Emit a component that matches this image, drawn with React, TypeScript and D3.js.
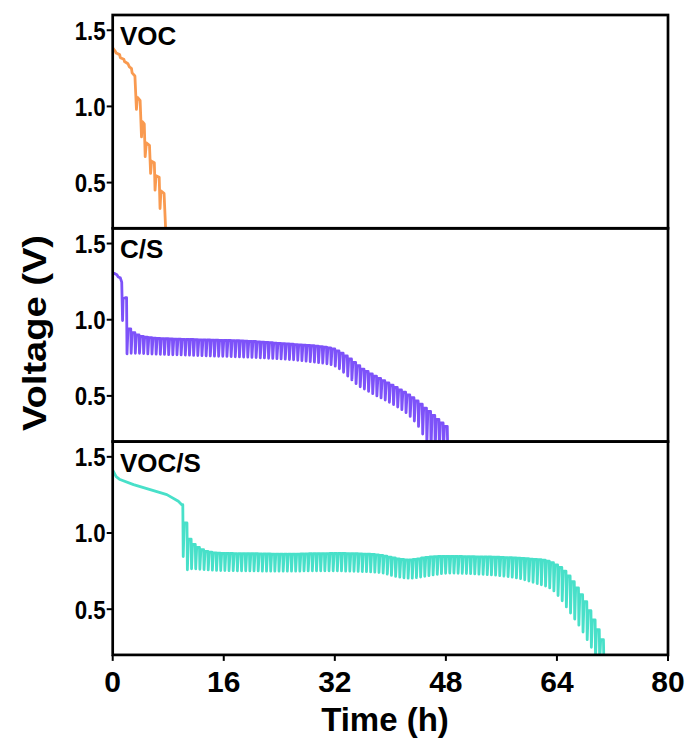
import React from "react";
import * as d3 from "d3";

// ---------------- data ----------------
const X_TICKS = [0, 16, 32, 48, 64, 80];
const Y_TICKS = [0.5, 1.0, 1.5];
const PANEL_LABELS = ["VOC", "C/S", "VOC/S"];
const COLORS = ["#F99A50", "#7D52F9", "#48E0C9"];

// VOC: explicit trace
const VOC_T = [0, 0.4, 0.5, 1.0, 1.1, 1.6, 1.7, 2.2, 2.4, 2.7, 2.8, 3.2, 3.42, 3.55, 3.95, 4.15, 4.28, 4.55, 4.68, 4.85, 5.3, 5.46, 5.6, 6.0, 6.1, 6.25, 6.7, 6.82, 6.95, 7.4, 7.64];
const VOC_V = [1.385, 1.36, 1.35, 1.34, 1.32, 1.31, 1.295, 1.28, 1.26, 1.25, 1.22, 1.2, 0.98, 1.06, 1.04, 0.8, 0.9, 0.885, 0.67, 0.76, 0.745, 0.56, 0.64, 0.63, 0.45, 0.545, 0.535, 0.33, 0.445, 0.43, 0.18];

// C/S: pre-pulse trace then pulses
const CS_PRE_T = [0, 0.2, 0.6, 0.8, 1.1, 1.3, 1.42, 1.5, 1.9];
const CS_PRE_V = [1.307, 1.305, 1.295, 1.28, 1.275, 1.247, 0.995, 1.138, 1.145];
const CS_START = 2.0;
const CS_PERIOD = 0.6;
const CS_HIGH = [1.145, 0.94, 0.915, 0.9, 0.89, 0.885, 0.882, 0.879, 0.877, 0.876, 0.875, 0.874, 0.873, 0.872, 0.871, 0.87, 0.87, 0.869, 0.868, 0.868, 0.867, 0.866, 0.866, 0.865, 0.864, 0.864, 0.863, 0.862, 0.861, 0.86, 0.858, 0.857, 0.855, 0.853, 0.851, 0.849, 0.847, 0.845, 0.843, 0.841, 0.839, 0.837, 0.835, 0.833, 0.831, 0.829, 0.826, 0.823, 0.82, 0.815, 0.808, 0.796, 0.78, 0.762, 0.742, 0.72, 0.698, 0.676, 0.66, 0.645, 0.63, 0.615, 0.6, 0.585, 0.57, 0.555, 0.54, 0.524, 0.506, 0.488, 0.467, 0.445, 0.42, 0.398, 0.372, 0.345, 0.322, 0.3];
const CS_LOW = [0.776, 0.78, 0.78, 0.78, 0.778, 0.776, 0.775, 0.774, 0.773, 0.772, 0.771, 0.77, 0.77, 0.769, 0.768, 0.767, 0.766, 0.765, 0.764, 0.763, 0.762, 0.761, 0.76, 0.76, 0.759, 0.758, 0.757, 0.756, 0.755, 0.754, 0.753, 0.752, 0.75, 0.749, 0.747, 0.746, 0.744, 0.743, 0.741, 0.739, 0.737, 0.734, 0.731, 0.728, 0.725, 0.722, 0.718, 0.715, 0.711, 0.705, 0.695, 0.678, 0.655, 0.63, 0.605, 0.58, 0.56, 0.545, 0.53, 0.515, 0.5, 0.487, 0.473, 0.458, 0.443, 0.427, 0.41, 0.39, 0.365, 0.335, 0.3, 0.25, 0.19, 0.15, 0.15, 0.15, 0.15, 0.15];

// VOC/S
const VOCS_PRE_T = [0, 0.5, 1.05, 3.0, 5.4, 7.8, 9.46, 9.95];
const VOCS_PRE_V = [1.412, 1.37, 1.351, 1.318, 1.285, 1.252, 1.208, 1.186];
const VOCS_START = 10.1;
const VOCS_PERIOD = 0.6;
const VOCS_HIGH = [1.186, 1.066, 0.96, 0.925, 0.905, 0.89, 0.88, 0.874, 0.87, 0.868, 0.867, 0.866, 0.866, 0.865, 0.865, 0.865, 0.864, 0.864, 0.864, 0.863, 0.863, 0.863, 0.862, 0.862, 0.862, 0.862, 0.862, 0.862, 0.862, 0.863, 0.863, 0.864, 0.864, 0.865, 0.865, 0.865, 0.866, 0.866, 0.866, 0.866, 0.865, 0.865, 0.864, 0.863, 0.862, 0.861, 0.859, 0.857, 0.853, 0.848, 0.842, 0.836, 0.83, 0.826, 0.824, 0.824, 0.827, 0.83, 0.836, 0.84, 0.843, 0.845, 0.846, 0.846, 0.846, 0.846, 0.846, 0.846, 0.845, 0.845, 0.845, 0.844, 0.844, 0.843, 0.843, 0.842, 0.841, 0.84, 0.839, 0.838, 0.837, 0.835, 0.833, 0.831, 0.829, 0.827, 0.825, 0.822, 0.815, 0.805, 0.79, 0.775, 0.75, 0.718, 0.68, 0.64, 0.595, 0.55, 0.49, 0.43, 0.365, 0.3];
const VOCS_LOW = [0.846, 0.759, 0.765, 0.765, 0.762, 0.76, 0.758, 0.756, 0.755, 0.754, 0.754, 0.753, 0.753, 0.752, 0.752, 0.752, 0.751, 0.751, 0.751, 0.75, 0.75, 0.75, 0.75, 0.75, 0.75, 0.75, 0.75, 0.75, 0.75, 0.751, 0.751, 0.752, 0.752, 0.752, 0.752, 0.752, 0.752, 0.752, 0.751, 0.75, 0.75, 0.749, 0.748, 0.747, 0.746, 0.745, 0.743, 0.741, 0.737, 0.73, 0.722, 0.715, 0.71, 0.706, 0.704, 0.704, 0.707, 0.711, 0.716, 0.72, 0.725, 0.729, 0.733, 0.736, 0.737, 0.737, 0.736, 0.735, 0.734, 0.733, 0.732, 0.73, 0.729, 0.727, 0.725, 0.723, 0.72, 0.717, 0.714, 0.71, 0.705, 0.7, 0.693, 0.685, 0.677, 0.668, 0.66, 0.652, 0.64, 0.62, 0.59, 0.555, 0.515, 0.475, 0.435, 0.395, 0.35, 0.3, 0.25, 0.18, 0.15, 0.15];

// ---------------- layout ----------------
const W = 691;
const H = 742;
const LEFT = 112.7;
const RIGHT = 668;
const TOP = 15;
const PANEL_H = 213.3;
const FONT = "'Liberation Sans', Arial, Helvetica, sans-serif";

type Pt = [number, number];

function buildPulsed(preT: number[], preV: number[], start: number, period: number, hi: number[], lo: number[]): Pt[] {
  const pts: Pt[] = preT.map((t, i) => [t, preV[i]] as Pt);
  for (let i = 0; i < hi.length; i++) {
    const t = start + i * period;
    pts.push([t, hi[i]]);
    pts.push([t + 0.06, lo[i]]);
    if (i < hi.length - 1) {
      pts.push([t + 0.2, hi[i + 1]]);
    }
  }
  return pts;
}

export default function App() {
  const x = d3.scaleLinear().domain([0, 80]).range([LEFT, RIGHT]);
  const series: Pt[][] = [
    VOC_T.map((t, i) => [t, VOC_V[i]] as Pt),
    buildPulsed(CS_PRE_T, CS_PRE_V, CS_START, CS_PERIOD, CS_HIGH, CS_LOW),
    buildPulsed(VOCS_PRE_T, VOCS_PRE_V, VOCS_START, VOCS_PERIOD, VOCS_HIGH, VOCS_LOW),
  ];
  const bottom = TOP + PANEL_H * 3;

  return (
    <svg width={W} height={H} style={{ position: "absolute", left: 0, top: 0, background: "#fff" }} fontFamily={FONT}>
      <rect x={0} y={0} width={W} height={H} fill="#fff" />
      {series.map((pts, k) => {
        const y0 = TOP + PANEL_H * k;
        const y = d3.scaleLinear().domain([0.2, 1.6]).range([y0 + PANEL_H, y0]);
        const line = d3.line<Pt>().x((d) => x(d[0])).y((d) => y(d[1]));
        const cid = `clip${k}`;
        return (
          <g key={k}>
            <defs>
              <clipPath id={cid}>
                <rect x={LEFT} y={y0} width={RIGHT - LEFT} height={PANEL_H} />
              </clipPath>
            </defs>
            <path d={line(pts) || ""} fill="none" stroke={COLORS[k]} strokeWidth={2.8} strokeLinejoin="round" clipPath={`url(#${cid})`} />
            <rect x={LEFT} y={y0} width={RIGHT - LEFT} height={PANEL_H} fill="none" stroke="#000" strokeWidth={2.7} />
            {Y_TICKS.map((v) => (
              <g key={v}>
                <line x1={LEFT - 6} x2={LEFT} y1={y(v)} y2={y(v)} stroke="#000" strokeWidth={2} />
                <text x={LEFT - 38} y={y(v)} dy="0.36em" fontSize={26} fontWeight="bold" textLength={31} lengthAdjust="spacingAndGlyphs">
                  {v.toFixed(1)}
                </text>
              </g>
            ))}
            <text x={120} y={y0 + 30} fontSize={26} fontWeight="bold">
              {PANEL_LABELS[k]}
            </text>
          </g>
        );
      })}
      {X_TICKS.map((t) => (
        <g key={t}>
          <line x1={x(t)} x2={x(t)} y1={bottom} y2={bottom + 6} stroke="#000" strokeWidth={2} />
          <text x={x(t)} y={bottom + 37} textAnchor="middle" fontSize={30} fontWeight="bold">
            {t}
          </text>
        </g>
      ))}
      <text x={385} y={731} textAnchor="middle" fontSize={33} fontWeight="bold">
        Time (h)
      </text>
      <text transform={`translate(46, 333) rotate(-90)`} x={-98} fontSize={34} fontWeight="bold" textLength={196} lengthAdjust="spacingAndGlyphs">
        Voltage (V)
      </text>
    </svg>
  );
}
